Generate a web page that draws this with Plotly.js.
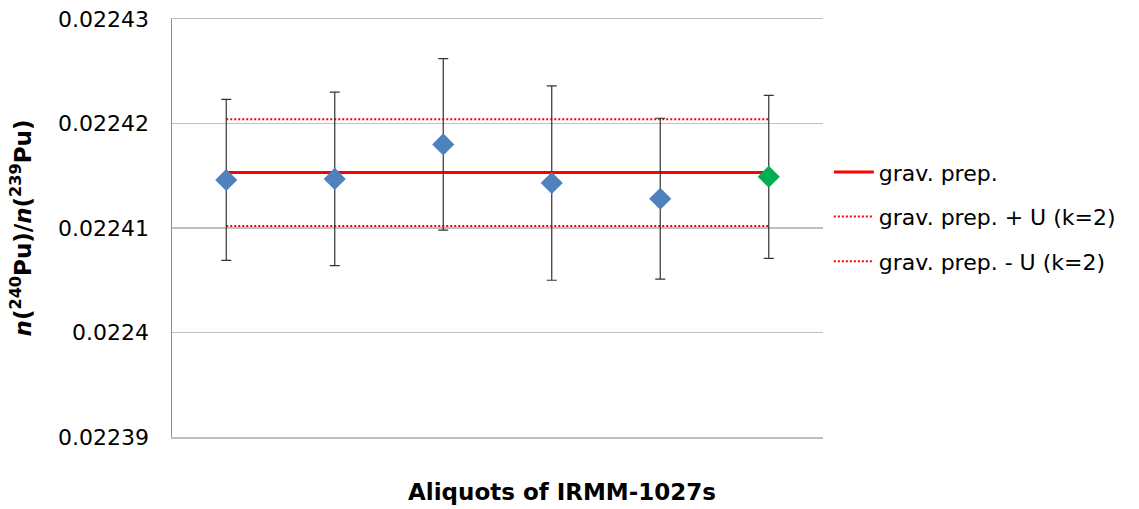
<!DOCTYPE html>
<html>
<head>
<meta charset="utf-8">
<script src="https://cdn.plot.ly/plotly-3.0.1.min.js"></script>
<style>
  html, body { margin: 0; padding: 0; background: #fff; }
  #chart { width: 1139px; height: 509px; }
</style>
</head>
<body>
<div id="chart"></div>
<script>
// Measured isotope amount ratios n(240Pu)/n(239Pu) for each aliquot
const aliquots = [1, 2, 3, 4, 5, 6];
const ratios = [0.0224146, 0.0224147, 0.0224180, 0.0224143, 0.0224128, 0.0224149];
const ratioU = [0.0000077, 0.0000083, 0.0000082, 0.0000093, 0.0000077, 0.0000078];
const pointColors = ['#4F81BD', '#4F81BD', '#4F81BD', '#4F81BD', '#4F81BD', '#00B050'];

// Gravimetric preparation value and its expanded uncertainty
const gravPrep = 0.0224153;
const gravU = 0.0000051;

// Y axis tick values and labels
const yTickVals = [0.02239, 0.0224, 0.02241, 0.02242, 0.02243];
const yTickText = ['0.02239', '0.0224', '0.02241', '0.02242', '0.02243'];

const xTitle = 'Aliquots of IRMM-1027s';
const yTitle = '<i>n</i>(<sup>240</sup>Pu)/<i>n</i>(<sup>239</sup>Pu)';

const lineX = [aliquots[0], aliquots[aliquots.length - 1]];
const FONT = 'DejaVu Sans, Verdana, sans-serif';

const traces = [
  {
    x: lineX, y: [gravPrep, gravPrep], mode: 'lines', name: 'grav. prep.', legendgroup: 'a',
    line: { color: '#FF0000', width: 3 }, hoverinfo: 'skip'
  },
  {
    x: lineX, y: [gravPrep + gravU, gravPrep + gravU], mode: 'lines', name: 'grav. prep. + U (k=2)', legendgroup: 'b',
    line: { color: '#FF0000', width: 2, dash: '2px,2px' }, hoverinfo: 'skip'
  },
  {
    x: lineX, y: [gravPrep - gravU, gravPrep - gravU], mode: 'lines', name: 'grav. prep. - U (k=2)', legendgroup: 'c',
    line: { color: '#FF0000', width: 2, dash: '2px,2px' }, hoverinfo: 'skip'
  },
  {
    x: aliquots, y: ratios, mode: 'markers', showlegend: false,
    marker: { symbol: 'diamond', size: 17, color: pointColors, line: { width: 0 } },
    error_y: { type: 'data', array: ratioU, visible: true, color: '#333333', thickness: 1.2, width: 5 }
  }
];

const layout = {
  width: 1139, height: 509,
  margin: { l: 172, r: 316, t: 19, b: 72 },
  paper_bgcolor: '#ffffff', plot_bgcolor: '#ffffff',
  font: { family: FONT, color: '#000000', size: 20 },
  showlegend: true,
  legend: {
    x: 1.009, xanchor: 'left', y: 0.527, yanchor: 'middle',
    font: { family: FONT, size: 22, color: '#000' },
    tracegroupgap: 13, itemwidth: 40, bgcolor: 'rgba(0,0,0,0)'
  },
  xaxis: {
    range: [0.5, 6.5], showticklabels: false, ticks: '', showgrid: false,
    zeroline: false, showline: true, mirror: true, linecolor: '#BFBFBF', linewidth: 1.5,
    fixedrange: true
  },
  yaxis: {
    range: [0.02239, 0.02243], tickvals: yTickVals, ticktext: yTickText,
    tickfont: { family: FONT, size: 22, color: '#000' },
    ticks: 'outside', ticklen: 17, tickcolor: 'rgba(0,0,0,0)',
    showgrid: true, gridcolor: '#BFBFBF', gridwidth: 1.5,
    zeroline: false, showline: true, linecolor: '#8C8C8C', linewidth: 1.5,
    fixedrange: true,
    title: {
      text: '<b>' + yTitle + '</b>',
      font: { family: FONT, size: 23 }, standoff: 20
    }
  },
  annotations: [
    {
      text: '<b>' + xTitle + '</b>', xref: 'paper', yref: 'paper',
      x: (562 - 172) / 651, y: -0.131, xanchor: 'center', yanchor: 'middle',
      showarrow: false, font: { family: FONT, size: 23, color: '#000' }
    }
  ]
};

Plotly.newPlot('chart', traces, layout, { displayModeBar: false, staticPlot: true });
</script>
</body>
</html>
